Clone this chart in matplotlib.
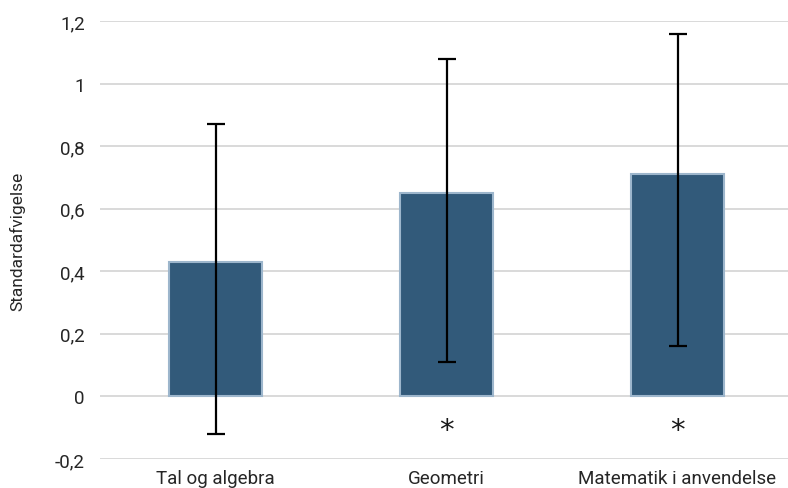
import matplotlib
matplotlib.use("Agg")
import matplotlib.pyplot as plt
import numpy as np

categories = ["Tal og algebra", "Geometri", "Matematik i anvendelse"]
values = [0.43, 0.65, 0.71]
err_low = [-0.12, 0.11, 0.16]
err_high = [0.87, 1.08, 1.16]
significant = [False, True, True]
y_ticks = [-0.2, 0, 0.2, 0.4, 0.6, 0.8, 1.0, 1.2]

BAR_COLOR = "#325a7a"
EDGE_COLOR = "#9db6cc"
TEXT_COLOR = "#262626"

plt.rcParams["font.family"] = ["Roboto", "DejaVu Sans"]

fig = plt.figure(figsize=(7.88, 4.89), dpi=100)
ax = fig.add_axes([100 / 788, 29 / 489, 693 / 788, 438 / 489])

xs = np.arange(len(categories))
vals = np.array(values)
yerr = [vals - np.array(err_low), np.array(err_high) - vals]

ax.bar(xs, vals, width=0.4, color=BAR_COLOR, edgecolor=EDGE_COLOR, linewidth=1.5, zorder=2)
ax.errorbar(xs, vals, yerr=yerr, fmt="none", ecolor="black", elinewidth=1.6,
            capsize=6.5, capthick=1.6, zorder=3)

# significance markers under the bars
for x, sig in zip(xs, significant):
    if sig:
        ax.text(x, -0.106, "*", ha="center", va="center", fontsize=21,
                family="DejaVu Sans", color="#1a1a1a")

ax.set_xlim(-0.5, len(categories) - 0.5)
ax.set_ylim(-0.2, 1.2)
ax.set_yticks(y_ticks)
ax.set_yticklabels([f"{t:g}".replace(".", ",") for t in y_ticks])
ax.set_xticks(xs)
ax.set_xticklabels(categories)
ax.tick_params(axis="both", length=0, labelsize=13.5, colors=TEXT_COLOR)
ax.tick_params(axis="y", pad=11)
ax.tick_params(axis="x", pad=7)
ax.grid(True, axis="y", color="#d0d0d0", linewidth=1.1, zorder=0)
ax.set_axisbelow(True)
for s in ax.spines.values():
    s.set_visible(False)

ax.set_ylabel("Standardafvigelse", fontsize=12.5, color=TEXT_COLOR, labelpad=21)

fig.savefig("out.png", dpi=100)
